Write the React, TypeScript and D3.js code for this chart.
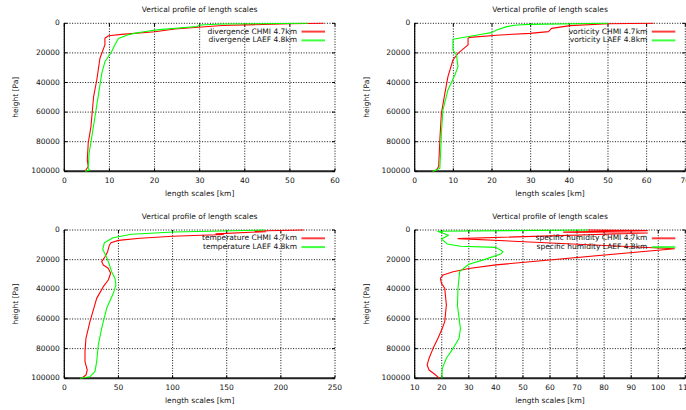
import React from "react";
import * as d3 from "d3";

const W = 686;
const H = 410;

const titleText = "Vertical profile of length scales";
const xLabelText = "length scales [km]";
const yLabelText = "height [Pa]";
const yTicks = [0, 20000, 40000, 60000, 80000, 100000];

// divergence
const divXTicks = [0, 10, 20, 30, 40, 50, 60];
const divChmiH = [0, 300, 1500, 3900, 5700, 7500, 8400, 10100, 14600, 23600, 38300, 49500, 70000, 81000, 92300, 96800, 100000];
const divChmiX = [57.5, 50, 35, 24.5, 20.1, 12.7, 9.8, 9.0, 9.0, 7.9, 7.2, 6.5, 5.9, 5.3, 5.1, 5.3, 4.6];
const divLaefH = [0, 500, 1100, 2200, 4300, 5500, 6800, 7900, 10300, 14600, 19100, 26000, 33800, 49500, 63000, 76600, 87800, 98000, 99200, 100000];
const divLaefX = [54, 35, 30, 29.5, 21, 18, 15.5, 14, 12, 11.2, 10.5, 9.0, 8.3, 7.5, 6.8, 6.1, 5.5, 5.3, 5.6, 4.6];

// vorticity
const vorXTicks = [0, 10, 20, 30, 40, 50, 60, 70];
const vorChmiH = [0, 300, 1600, 3400, 5600, 6800, 7900, 9500, 10100, 14600, 20300, 24800, 36000, 47300, 60800, 78800, 96800, 99100, 100000];
const vorChmiX = [61.8, 50, 40.2, 35.4, 34.6, 29.8, 22, 14.3, 13.8, 13.8, 11.2, 9.9, 8.6, 7.8, 6.9, 6.5, 6.2, 5.6, 4.8];
const vorLaefH = [0, 700, 1100, 2250, 4500, 6300, 7200, 10800, 18000, 21400, 29300, 34900, 45000, 58600, 74300, 87800, 98000, 99200, 100000];
const vorLaefX = [50.1, 29.8, 26.4, 23.8, 21.2, 19.9, 17.7, 9.9, 9.9, 10.8, 11.2, 10.4, 8.6, 7.3, 6.9, 6.7, 6.5, 5.6, 4.6];

// temperature
const temXTicks = [0, 50, 100, 150, 200, 250];
const temChmiH = [0, 700, 1100, 2600, 3000, 4200, 5600, 7000, 8600, 10500, 14600, 18000, 21300, 23600, 25800, 29200, 33700, 38200, 46100, 61800, 73000, 82000, 88800, 94400, 97800, 100000];
const temChmiX = [221, 176, 186, 140, 147, 100, 70, 50, 43, 41.5, 40, 37.6, 34.5, 36, 40.6, 42.8, 40.6, 36, 29.9, 23.7, 20, 19.1, 19.1, 21.2, 20, 16];
const temLaefH = [0, 1300, 2900, 5200, 8600, 13000, 17500, 22000, 28100, 32600, 37100, 42700, 52800, 66300, 77500, 88800, 95500, 98900, 100000];
const temLaefX = [185, 101, 62, 45, 37, 35.5, 38.5, 41, 43.7, 46.8, 47.7, 45.3, 39.1, 34.5, 31.4, 29.9, 28.3, 23.7, 14.5];

// specific humidity
const humXTicks = [10, 20, 30, 40, 50, 60, 70, 80, 90, 100, 110];
const humChmiH = [0, 400, 1400, 2000, 5800, 12600, 23500, 26000, 28100, 30300, 32600, 36000, 39300, 50600, 61800, 66300, 73000, 79800, 86500, 91000, 94400, 97300, 100000];
const humChmiX = [74, 96, 65, 96, 26, 106, 40, 30, 24.2, 20.5, 19.5, 19.9, 21.1, 21.7, 21.1, 20.2, 18.6, 16.8, 15.3, 14.6, 15.3, 17.4, 19.2];
const humLaefH = [0, 800, 3600, 6000, 9400, 11000, 11700, 14500, 16000, 19800, 23100, 28100, 39300, 50600, 59600, 66300, 73000, 79800, 86500, 93300, 100000];
const humLaefX = [74, 18.5, 22.5, 19.9, 22, 27, 40, 42.6, 42, 36, 30, 26.6, 26, 25.8, 26.4, 26.9, 26.4, 24.2, 21.7, 20.2, 20];

const FONT = "'DejaVu Sans', sans-serif";
const FS = 7.5;
const RED = "#ff0000";
const GREEN = "#00ff00";

type Series = { name: string; color: string; xs: number[]; hs: number[] };
type Panel = {
  left: number; right: number; top: number; bottom: number;
  xDomain: [number, number]; xTicks: number[]; series: Series[];
};

const panels: Panel[] = [
  { left: 64.3, right: 335, top: 23.3, bottom: 171.3, xDomain: [0, 60], xTicks: divXTicks,
    series: [
      { name: "divergence CHMI 4.7km", color: RED, xs: divChmiX, hs: divChmiH },
      { name: "divergence LAEF 4.8km", color: GREEN, xs: divLaefX, hs: divLaefH },
    ] },
  { left: 414.7, right: 685.3, top: 23.3, bottom: 171.3, xDomain: [0, 70], xTicks: vorXTicks,
    series: [
      { name: "vorticity CHMI 4.7km", color: RED, xs: vorChmiX, hs: vorChmiH },
      { name: "vorticity LAEF 4.8km", color: GREEN, xs: vorLaefX, hs: vorLaefH },
    ] },
  { left: 64.3, right: 335, top: 230, bottom: 378.3, xDomain: [0, 250], xTicks: temXTicks,
    series: [
      { name: "temperature CHMI 4.7km", color: RED, xs: temChmiX, hs: temChmiH },
      { name: "temperature LAEF 4.8km", color: GREEN, xs: temLaefX, hs: temLaefH },
    ] },
  { left: 414.7, right: 685.3, top: 230, bottom: 378.3, xDomain: [10, 110], xTicks: humXTicks,
    series: [
      { name: "specific humidity CHMI 4.7km", color: RED, xs: humChmiX, hs: humChmiH },
      { name: "specific humidity LAEF 4.8km", color: GREEN, xs: humLaefX, hs: humLaefH },
    ] },
];

function PanelView({ p, idx }: { p: Panel; idx: number }) {
  const x = d3.scaleLinear().domain(p.xDomain).range([p.left, p.right]);
  const y = d3.scaleLinear().domain([0, 100000]).range([p.top, p.bottom]);
  const cx = (p.left + p.right) / 2;
  const cy = (p.top + p.bottom) / 2;
  const clipId = `clip${idx}`;
  const tick = 3;
  return (
    <g>
      <defs>
        <clipPath id={clipId}>
          <rect x={p.left - 1} y={p.top - 1} width={p.right - p.left + 2} height={p.bottom - p.top + 2} />
        </clipPath>
      </defs>
      {/* grid */}
      {p.xTicks.map((t) => (
        <line key={"gx" + t} x1={x(t)} x2={x(t)} y1={p.top} y2={p.bottom}
          stroke="#111" strokeWidth={1} strokeDasharray="1,1.6" />
      ))}
      {yTicks.map((t) => (
        <line key={"gy" + t} x1={p.left} x2={p.right} y1={y(t)} y2={y(t)}
          stroke="#111" strokeWidth={1} strokeDasharray="1,1.6" />
      ))}
      {/* border */}
      <line x1={p.left} x2={p.left} y1={p.top} y2={p.bottom} stroke="#000" strokeWidth={1.2} />
      <line x1={p.left} x2={p.right} y1={p.bottom} y2={p.bottom} stroke="#222" strokeWidth={2} />
      {/* ticks */}
      {p.xTicks.map((t) => (
        <g key={"tx" + t}>
          <line x1={x(t)} x2={x(t)} y1={p.top} y2={p.top + tick} stroke="#000" strokeWidth={1} />
          <line x1={x(t)} x2={x(t)} y1={p.bottom} y2={p.bottom - tick} stroke="#000" strokeWidth={1} />
        </g>
      ))}
      {yTicks.map((t) => (
        <g key={"ty" + t}>
          <line x1={p.left} x2={p.left + tick} y1={y(t)} y2={y(t)} stroke="#000" strokeWidth={1} />
          <line x1={p.right} x2={p.right - tick} y1={y(t)} y2={y(t)} stroke="#000" strokeWidth={1} />
        </g>
      ))}
      {/* tick labels */}
      {p.xTicks.map((t) => (
        <text key={"lx" + t} x={x(t)} y={p.bottom + 10} textAnchor="middle" dominantBaseline="middle"
          fontFamily={FONT} fontSize={FS} fill="#111">{t}</text>
      ))}
      {yTicks.map((t) => (
        <text key={"ly" + t} x={p.left - 4.5} y={y(t)} textAnchor="end" dominantBaseline="middle"
          fontFamily={FONT} fontSize={FS} fill="#111">{t}</text>
      ))}
      {/* labels */}
      <text x={cx} y={p.top - 13} textAnchor="middle" dominantBaseline="middle"
        fontFamily={FONT} fontSize={FS} fill="#111">{titleText}</text>
      <text x={cx} y={p.bottom + 23} textAnchor="middle" dominantBaseline="middle"
        fontFamily={FONT} fontSize={FS} fill="#111">{xLabelText}</text>
      <text transform={`translate(${p.left - 48},${cy}) rotate(-90)`} textAnchor="middle" dominantBaseline="middle"
        fontFamily={FONT} fontSize={FS} fill="#111">{yLabelText}</text>
      {/* data */}
      <g clipPath={`url(#${clipId})`}>
        {p.series.map((s) => {
          const pts: [number, number][] = s.xs.map((v, i) => [v, s.hs[i]]);
          const line = d3.line<[number, number]>().x((d) => x(d[0])).y((d) => y(d[1]));
          return <path key={s.name} d={line(pts) || ""} fill="none" stroke={s.color} strokeWidth={1.1} strokeLinejoin="round" />;
        })}
      </g>
      {/* legend */}
      {p.series.map((s, i) => {
        const ly = p.top + 8.3 + i * 8.8;
        return (
          <g key={"lg" + s.name}>
            <text x={p.right - 38} y={ly} textAnchor="end" dominantBaseline="middle"
              fontFamily={FONT} fontSize={FS} fill="#111">{s.name}</text>
            <line x1={p.right - 33.5} x2={p.right - 10} y1={ly} y2={ly} stroke={s.color} strokeWidth={2} strokeOpacity={0.75} />
          </g>
        );
      })}
    </g>
  );
}

export default function App() {
  return (
    <svg width={W} height={H} style={{ position: "absolute", left: 0, top: 0, background: "#fff" }}>
      <rect x={0} y={0} width={W} height={H} fill="#fff" />
      {panels.map((p, i) => (
        <PanelView key={i} p={p} idx={i} />
      ))}
    </svg>
  );
}
